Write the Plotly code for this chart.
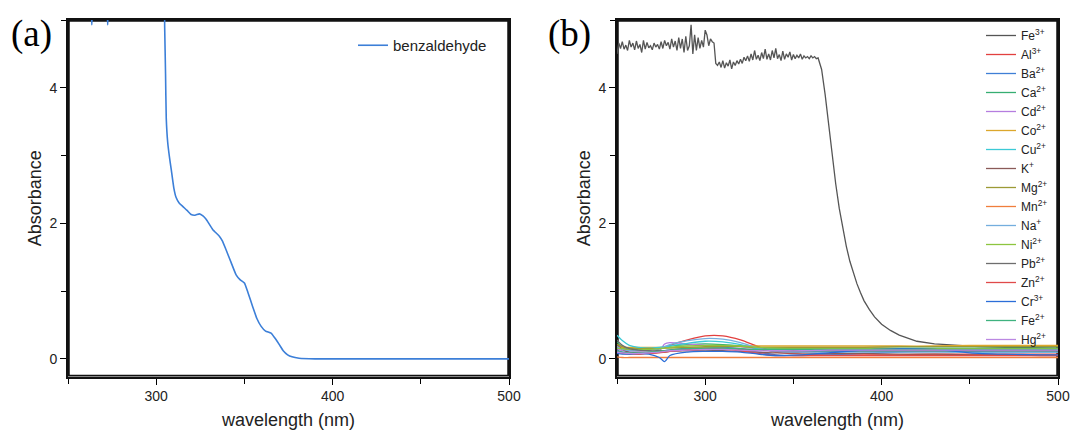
import plotly.graph_objects as go

# ---------------- data ----------------
benz_wl = [250, 262, 263.5, 265, 271, 272.5, 274, 300, 304, 304.8, 305.3, 305.7, 306.5, 307.5,
           308.5, 310, 311.3, 313, 315, 317.5, 319.8, 322, 324.5, 326.5, 328.3, 332, 335.8,
           337.5, 339.6, 342.5, 345.3, 347.5, 350, 352, 354.7, 357, 359.5, 362, 365.1, 367.5,
           369.8, 372, 374.5, 377, 381, 390, 400, 420, 440, 460, 480, 500]
benz_abs = [5.6, 5.6, 4.93, 5.6, 5.6, 4.93, 5.6, 5.8, 5.8, 4.9, 4.2, 3.55, 3.2, 2.98,
            2.80, 2.52, 2.38, 2.30, 2.25, 2.19, 2.13, 2.12, 2.14, 2.11, 2.06, 1.91, 1.81,
            1.74, 1.61, 1.42, 1.24, 1.17, 1.12, 0.98, 0.77, 0.60, 0.48, 0.41, 0.38, 0.30,
            0.21, 0.12, 0.06, 0.03, 0.01, 0.0, 0.0, 0.0, 0.0, 0.0, 0.0, 0.0]

fe3_wl = list(range(250, 365)) + [366, 368, 370, 372, 374, 376, 378, 380, 382, 384, 386, 388,
                                   390, 393, 396, 400, 405, 410, 415, 420, 430, 440, 455, 470,
                                   485, 500]
fe3_abs = [4.50, 4.66, 4.58, 4.68, 4.57, 4.63, 4.55, 4.70, 4.60, 4.66,
           4.56, 4.69, 4.58, 4.64, 4.52, 4.70, 4.57, 4.67, 4.59, 4.62,
           4.56, 4.66, 4.60, 4.64, 4.57, 4.68, 4.58, 4.70, 4.62, 4.67,
           4.57, 4.72, 4.60, 4.69, 4.55, 4.74, 4.58, 4.72, 4.52, 4.76,
           4.55, 4.62, 4.93, 4.50, 4.78, 4.55, 4.74, 4.58, 4.70, 4.60,
           4.85, 4.78, 4.62, 4.72, 4.68, 4.66, 4.36, 4.33, 4.38, 4.30,
           4.40, 4.29, 4.37, 4.32, 4.41, 4.28, 4.38, 4.33, 4.40, 4.35,
           4.42, 4.36, 4.45, 4.40, 4.47, 4.39, 4.50, 4.41, 4.55, 4.42,
           4.48, 4.40, 4.52, 4.43, 4.57, 4.42, 4.50, 4.41, 4.55, 4.44,
           4.58, 4.43, 4.49, 4.40, 4.54, 4.42, 4.50, 4.45, 4.53, 4.41,
           4.49, 4.43, 4.48, 4.44, 4.50, 4.42, 4.47, 4.44, 4.46, 4.43,
           4.47, 4.44, 4.46, 4.43, 4.44,
           4.27, 3.90, 3.43, 2.98, 2.58, 2.22, 1.92, 1.66, 1.44, 1.26, 1.11, 0.98,
           0.86, 0.73, 0.62, 0.51, 0.42, 0.35, 0.30, 0.26, 0.22, 0.20, 0.18, 0.17,
           0.16, 0.16]

base_wl = [250, 253, 257, 262, 268, 274, 277, 280, 290, 300, 310, 320, 330, 340, 355, 370,
           390, 410, 430, 450, 470, 490, 500]
al3 = [0.20, 0.16, 0.13, 0.12, 0.13, 0.15, 0.17, 0.20, 0.28, 0.34, 0.34, 0.28, 0.18, 0.10, 0.07, 0.06, 0.06, 0.06, 0.07, 0.07, 0.07, 0.07, 0.07]
ba2 = [0.12, 0.10, 0.08, 0.07, 0.08, 0.10, 0.12, 0.13, 0.16, 0.17, 0.17, 0.15, 0.10, 0.06, 0.05, 0.06, 0.08, 0.10, 0.11, 0.11, 0.12, 0.12, 0.12]
ca2 = [0.25, 0.18, 0.14, 0.13, 0.14, 0.15, 0.17, 0.19, 0.21, 0.22, 0.21, 0.19, 0.16, 0.16, 0.16, 0.16, 0.16, 0.16, 0.16, 0.16, 0.16, 0.16, 0.16]
cd2 = [0.15, 0.12, 0.10, 0.10, 0.10, 0.12, 0.22, 0.24, 0.22, 0.20, 0.19, 0.18, 0.15, 0.13, 0.12, 0.12, 0.13, 0.14, 0.14, 0.13, 0.13, 0.13, 0.13]
co2 = [0.18, 0.17, 0.17, 0.17, 0.17, 0.17, 0.17, 0.17, 0.17, 0.17, 0.18, 0.19, 0.19, 0.19, 0.19, 0.19, 0.19, 0.19, 0.19, 0.20, 0.20, 0.20, 0.20]
cu2 = [0.35, 0.27, 0.20, 0.17, 0.16, 0.17, 0.18, 0.19, 0.23, 0.26, 0.25, 0.21, 0.15, 0.12, 0.11, 0.11, 0.11, 0.11, 0.11, 0.10, 0.10, 0.10, 0.10]
k1 = [0.20, 0.14, 0.10, 0.09, 0.09, 0.10, 0.10, 0.11, 0.12, 0.13, 0.12, 0.11, 0.10, 0.09, 0.09, 0.08, 0.08, 0.07, 0.07, 0.06, 0.06, 0.05, 0.05]
mg2 = [0.22, 0.18, 0.16, 0.15, 0.15, 0.15, 0.16, 0.16, 0.17, 0.18, 0.18, 0.18, 0.17, 0.17, 0.17, 0.17, 0.17, 0.18, 0.18, 0.18, 0.18, 0.18, 0.18]
mn2 = [0.03, 0.02, 0.02, 0.02, 0.02, 0.02, 0.02, 0.02, 0.02, 0.02, 0.02, 0.02, 0.02, 0.02, 0.02, 0.02, 0.02, 0.02, 0.02, 0.02, 0.02, 0.02, 0.02]
na1 = [0.18, 0.14, 0.12, 0.12, 0.13, 0.15, 0.18, 0.21, 0.27, 0.30, 0.29, 0.24, 0.16, 0.11, 0.10, 0.10, 0.10, 0.10, 0.10, 0.10, 0.10, 0.10, 0.10]
ni2 = [0.16, 0.15, 0.14, 0.14, 0.14, 0.15, 0.16, 0.17, 0.19, 0.20, 0.20, 0.19, 0.17, 0.16, 0.15, 0.15, 0.15, 0.15, 0.15, 0.15, 0.15, 0.15, 0.15]
pb2 = [0.28, 0.20, 0.15, 0.13, 0.12, 0.12, 0.12, 0.13, 0.14, 0.15, 0.15, 0.14, 0.13, 0.12, 0.12, 0.12, 0.12, 0.12, 0.12, 0.12, 0.12, 0.12, 0.12]
zn2 = [0.10, 0.08, 0.07, 0.07, 0.08, 0.09, 0.10, 0.11, 0.13, 0.14, 0.14, 0.12, 0.08, 0.05, 0.05, 0.05, 0.05, 0.05, 0.05, 0.05, 0.05, 0.05, 0.05]
cr3 = [0.08, 0.07, 0.07, 0.08, 0.07, 0.02, -0.04, 0.05, 0.10, 0.11, 0.11, 0.10, 0.07, 0.05, 0.06, 0.09, 0.13, 0.15, 0.14, 0.09, 0.07, 0.06, 0.06]
fe2 = [0.12, 0.10, 0.09, 0.09, 0.10, 0.11, 0.12, 0.13, 0.15, 0.16, 0.16, 0.15, 0.14, 0.14, 0.14, 0.14, 0.14, 0.14, 0.14, 0.14, 0.14, 0.14, 0.14]
hg2 = [0.10, 0.09, 0.08, 0.08, 0.09, 0.10, 0.11, 0.12, 0.13, 0.14, 0.14, 0.13, 0.12, 0.12, 0.12, 0.13, 0.13, 0.13, 0.13, 0.13, 0.13, 0.13, 0.13]

ion_names = ["Al<sup>3+</sup>", "Ba<sup>2+</sup>", "Ca<sup>2+</sup>", "Cd<sup>2+</sup>",
             "Co<sup>2+</sup>", "Cu<sup>2+</sup>", "K<sup>+</sup>", "Mg<sup>2+</sup>",
             "Mn<sup>2+</sup>", "Na<sup>+</sup>", "Ni<sup>2+</sup>", "Pb<sup>2+</sup>",
             "Zn<sup>2+</sup>", "Cr<sup>3+</sup>", "Fe<sup>2+</sup>", "Hg<sup>2+</sup>"]
ion_values = [al3, ba2, ca2, cd2, co2, cu2, k1, mg2, mn2, na1, ni2, pb2, zn2, cr3, fe2, hg2]
ion_colors = ["#e2403f", "#3f7fd6", "#36ae72", "#b57ddf", "#dca72c", "#3ccad6", "#8a5a58",
              "#9c9a35", "#f07e3c", "#74aede", "#8dc53f", "#6e6e6e", "#e04a4a", "#2b6ed8",
              "#3fb27f", "#bb88e2"]

# axis ranges
x_range = [250, 500]
y_range = [-0.26, 5.0]

FONT = "Liberation Sans, Arial, sans-serif"
SERIF = "Liberation Serif, Times New Roman, serif"

fig = go.Figure()

# plot-area frame of each panel, following the axis ranges
for xa, ya in (("x", "y"), ("x2", "y2")):
    fig.add_trace(go.Scatter(
        x=[x_range[0], x_range[1], x_range[1], x_range[0], x_range[0]],
        y=[y_range[0], y_range[0], y_range[1], y_range[1], y_range[0]],
        mode="lines", line=dict(color="#111111", width=3.5), showlegend=False,
        hoverinfo="skip", xaxis=xa, yaxis=ya))

fig.add_trace(go.Scatter(x=benz_wl, y=benz_abs, mode="lines", name="benzaldehyde",
                         line=dict(color="#3c7fd8", width=1.6, shape="spline", smoothing=0.4),
                         xaxis="x", yaxis="y", legend="legend"))

fig.add_trace(go.Scatter(x=fe3_wl, y=fe3_abs, mode="lines", name="Fe<sup>3+</sup>",
                         line=dict(color="#555555", width=1.3),
                         xaxis="x2", yaxis="y2", legend="legend2"))
for nm, vals, col in zip(ion_names, ion_values, ion_colors):
    fig.add_trace(go.Scatter(x=base_wl, y=vals, mode="lines", name=nm,
                             line=dict(color=col, width=1.3, shape="spline", smoothing=0.8),
                             xaxis="x2", yaxis="y2", legend="legend2"))

W, H = 1070, 432

def px(xp):
    return xp / W

def py(yp):
    return 1 - yp / H

xa_dom = [px(68), px(509)]
xb_dom = [px(617), px(1058)]
y_dom = [py(376.5), py(20)]

def xaxis(domain, anchor):
    return dict(domain=domain, anchor=anchor, range=x_range, tick0=300, dtick=100,
                ticks="outside", ticklen=6, tickwidth=1.3, tickcolor="black",
                showline=True, linecolor="#111111", linewidth=2, mirror=True,
                showgrid=False, zeroline=False, automargin=False,
                ticklabeloverflow="allow",
                minor=dict(dtick=50, tick0=250, ticks="outside", ticklen=5, tickwidth=1.3,
                           tickcolor="black", showgrid=False),
                tickfont=dict(family=FONT, size=14, color="#222"),
                title=dict(text="wavelength (nm)", font=dict(family=FONT, size=18, color="#222"),
                           standoff=10))

def yaxis(anchor):
    return dict(domain=y_dom, anchor=anchor, range=y_range, tick0=0, dtick=2,
                ticks="outside", ticklen=6, tickwidth=1.3, tickcolor="black",
                showline=True, linecolor="#111111", linewidth=2, mirror=True,
                showgrid=False, zeroline=False, automargin=False,
                minor=dict(dtick=1, tick0=0, ticks="outside", ticklen=5, tickwidth=1.3,
                           tickcolor="black", showgrid=False),
                tickfont=dict(family=FONT, size=14, color="#222"),
                title=dict(text="Absorbance", font=dict(family=FONT, size=18, color="#222"),
                           standoff=3))

fig.update_layout(
    width=W, height=H, margin=dict(l=0, r=0, t=0, b=0, autoexpand=False),
    paper_bgcolor="white", plot_bgcolor="white",
    xaxis=xaxis(xa_dom, "y"), yaxis=yaxis("x"),
    xaxis2=xaxis(xb_dom, "y2"), yaxis2=yaxis("x2"),
    legend=dict(x=px(353), y=py(29), xanchor="left", yanchor="top",
                bgcolor="rgba(0,0,0,0)", font=dict(family=FONT, size=15, color="#222"),
                itemwidth=30),
    legend2=dict(x=px(981), y=py(21), xanchor="left", yanchor="top",
                 bgcolor="rgba(0,0,0,0)", font=dict(family=FONT, size=12, color="#222"),
                 itemwidth=30, tracegroupgap=0),
    showlegend=True,
    annotations=[
        dict(text="(a)", x=px(31), y=py(34), xref="paper", yref="paper",
             xanchor="center", yanchor="middle", showarrow=False,
             font=dict(family=SERIF, size=37, color="black")),
        dict(text="(b)", x=px(569), y=py(34), xref="paper", yref="paper",
             xanchor="center", yanchor="middle", showarrow=False,
             font=dict(family=SERIF, size=37, color="black")),
    ],
)

# remove the browser's default 8px page margin so the figure fills the window exactly
fig.write_html("out.html", config={"displayModeBar": False},
               post_script="document.body.style.margin='0';document.body.style.overflow='hidden';")
